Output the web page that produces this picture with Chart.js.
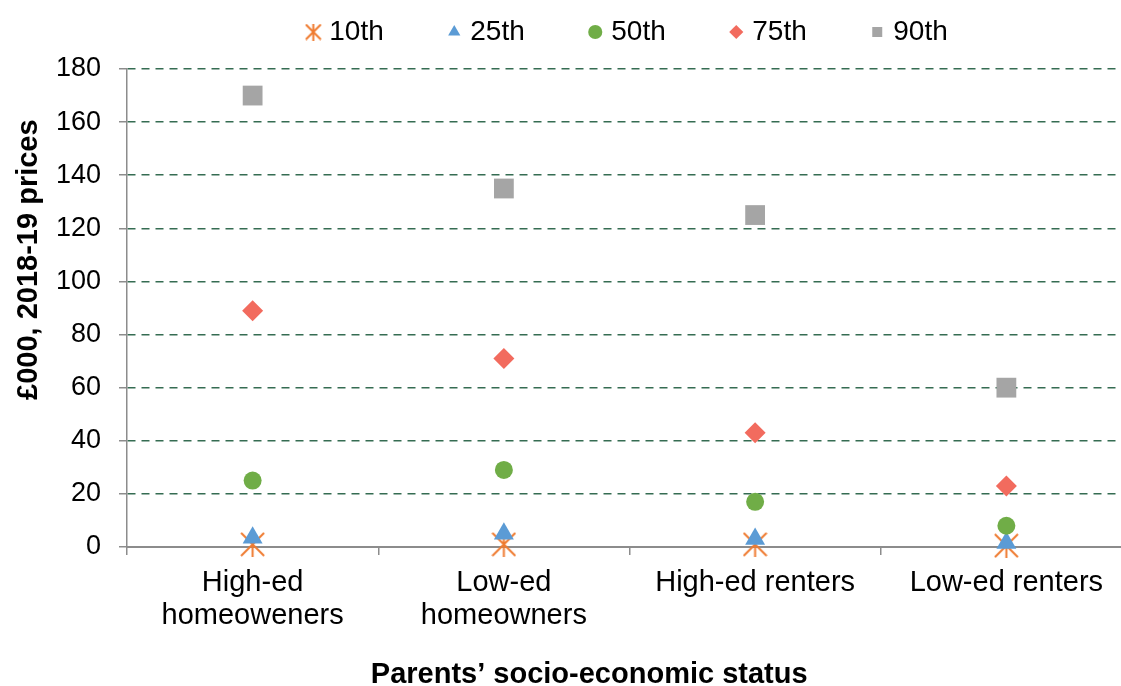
<!DOCTYPE html>
<html>
<head>
<meta charset="utf-8">
<script src="https://cdn.jsdelivr.net/npm/chart.js@4"></script>
<style>
  html, body { margin: 0; padding: 0; background: #fff; overflow: hidden; }
  /* the plot runs a little past the right edge of the window, as in the original */
  #wrap { width: 1146px; height: 686px; }
</style>
</head>
<body>
<div id="wrap"><canvas id="chart"></canvas></div>
<script>
// values, £000 2018-19 prices
const categories = [["High-ed", "homeoweners"], ["Low-ed", "homeowners"], "High-ed renters", "Low-ed renters"];
const p10 = [1, 1, 1, 0.5];
const p25 = [3.5, 5, 3, 1.5];
const p50 = [25, 29, 17, 8];
const p75 = [89, 71, 43, 23];
const p90 = [170, 135, 125, 60];
const seriesNames = ["10th", "25th", "50th", "75th", "90th"];

const FONT = "'Liberation Sans', Arial, sans-serif";
const AXIS_GREY = "#8c8c8c";
const GRID_GREEN = "#356c52";

// excel style star: an X with a vertical bar through it
function starMarker(size, color) {
  const c = document.createElement("canvas");
  c.width = size;
  c.height = size;
  const g = c.getContext("2d");
  g.strokeStyle = color;
  g.lineWidth = 2;
  g.beginPath();
  g.moveTo(1, 1); g.lineTo(size - 1, size - 1);
  g.moveTo(size - 1, 1); g.lineTo(1, size - 1);
  g.moveTo(size / 2, 0); g.lineTo(size / 2, size);
  g.stroke();
  return c;
}

const orange = "#ef7b30";
const bigStar = starMarker(25, orange);
const smallStar = starMarker(17, orange);

function series(label, data, style, color, radius, order) {
  return {
    label: label,
    data: data,
    showLine: false,
    clip: false,
    pointStyle: style,
    backgroundColor: color,
    borderColor: color,
    pointBackgroundColor: color,
    pointBorderColor: color,
    pointBorderWidth: 0,
    pointRadius: radius,
    pointHoverRadius: radius,
    order: order
  };
}

Chart.defaults.color = "#000";
Chart.defaults.font.family = FONT;

new Chart("chart", {
  type: "line",
  data: {
    labels: categories,
    datasets: [
      series(seriesNames[0], p10, bigStar, orange, 12, 5),
      series(seriesNames[1], p25, "triangle", "#5b9bd5", 11.5, 4),
      series(seriesNames[2], p50, "circle", "#70ad47", 9, 3),
      series(seriesNames[3], p75, "rectRot", "#f26b5e", 10.5, 2),
      series(seriesNames[4], p90, "rect", "#a5a5a5", 14, 1)
    ]
  },
  options: {
    responsive: true,
    maintainAspectRatio: false,
    animation: false,
    devicePixelRatio: 1,
    layout: { padding: { top: -50.5, right: 0, left: 0, bottom: 0 } },
    plugins: {
      tooltip: { enabled: false },
      // empty spacer between legend and plot
      subtitle: {
        display: true,
        text: "",
        fullSize: false,
        padding: 0,
        font: { size: 10, lineHeight: 1.3 }
      },
      legend: {
        position: "top",
        fullSize: false,
        weight: 3000,
        labels: {
          usePointStyle: true,
          boxWidth: 4,
          boxHeight: 10,
          padding: 68.5,
          font: { size: 28, family: FONT },
          color: "#000",
          sort: (a, b) => a.datasetIndex - b.datasetIndex,
          generateLabels(chart) {
            const items = Chart.defaults.plugins.legend.labels.generateLabels(chart);
            items.forEach(it => {
              if (it.datasetIndex === 0) it.pointStyle = smallStar;
              it.lineWidth = 0;
            });
            return items;
          }
        }
      }
    },
    scales: {
      x: {
        offset: true,
        afterFit: s => {
          s.height = 139;
          s.paddingLeft = 0;
          s.paddingRight = 0;
        },
        grid: {
          offset: true,
          drawOnChartArea: false,
          tickLength: 8,
          color: AXIS_GREY,
          lineWidth: 1.5
        },
        border: { color: AXIS_GREY, width: 2 },
        ticks: {
          padding: 12,
          maxRotation: 0,
          autoSkip: false,
          color: "#000",
          font: { size: 29, lineHeight: 1.12 }
        },
        title: {
          display: true,
          text: "Parents\u2019 socio-economic status          ",
          color: "#000",
          padding: { top: 0, bottom: 0 },
          font: { size: 29, weight: "bold", lineHeight: 0.76 }
        }
      },
      y: {
        min: 0,
        max: 180,
        afterFit: s => { s.width = 127; },
        grid: {
          color: ctx => (ctx.tick && ctx.tick.value === 0 ? "rgba(0,0,0,0)" : GRID_GREEN),
          lineWidth: 1.5,
          tickLength: 8,
          tickColor: AXIS_GREY,
          tickWidth: 1.5
        },
        border: { color: AXIS_GREY, width: 1.5, dash: [8, 6] },
        ticks: {
          stepSize: 20,
          padding: 18,
          color: "#000",
          font: { size: 27 }
        },
        title: {
          display: true,
          text: "            \u00a3000, 2018-19 prices",
          color: "#000",
          padding: { top: 12, bottom: 0 },
          font: { size: 29, weight: "bold", lineHeight: 1.2 }
        }
      }
    }
  }
});
</script>
</body>
</html>
